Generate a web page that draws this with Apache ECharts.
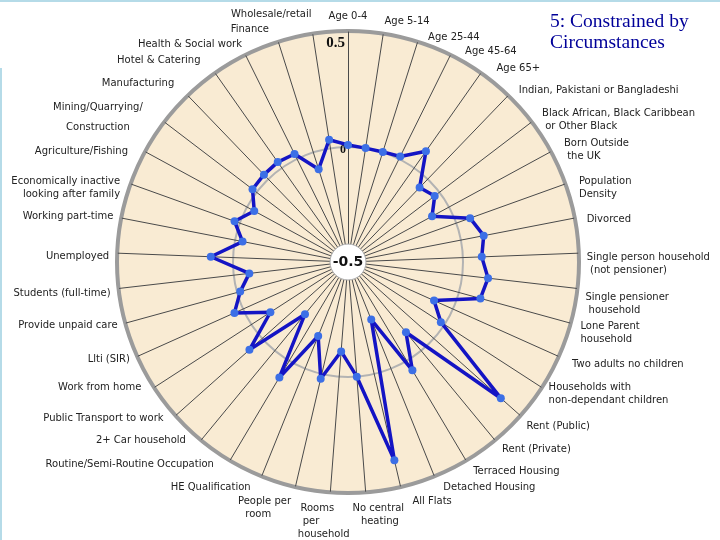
<!DOCTYPE html>
<html>
<head>
<meta charset="utf-8">
<script src="https://cdn.jsdelivr.net/npm/echarts@6/dist/echarts.min.js"></script>
<style>
  html, body { margin: 0; padding: 0; background: #fff; }
  #chart { width: 720px; height: 540px; }
</style>
</head>
<body>
<div id="chart"></div>
<script>
// indicators, clockwise from the top
const categories = [
  'Age 0-4', 'Age 5-14', 'Age 25-44', 'Age 45-64', 'Age 65+',
  'Indian, Pakistani or Bangladeshi',
  'Black African, Black Caribbean\n or Other Black',
  'Born Outside\n the UK', 'Population\nDensity', 'Divorced',
  'Single person household\n (not pensioner)', 'Single pensioner\n household',
  'Lone Parent\nhousehold', 'Two adults no children',
  'Households with\nnon-dependant children', 'Rent (Public)', 'Rent (Private)',
  'Terraced Housing', 'Detached Housing', 'All Flats', 'No central\n heating',
  'Rooms    \nper        \nhousehold', 'People per\n room     ', 'HE Qualification',
  'Routine/Semi-Routine Occupation', '2+ Car household', 'Public Transport to work',
  'Work from home', 'Llti (SIR)', 'Provide unpaid care', 'Students (full-time)',
  'Unemployed', 'Working part-time', 'Economically inactive\nlooking after family',
  'Agriculture/Fishing', 'Mining/Quarrying/\nConstruction', 'Manufacturing',
  'Hotel & Catering', 'Health & Social work', 'Finance', 'Wholesale/retail'
]
const values = [
  0.009, 0.001, 0.002, 0.012, 0.089,
  -0.051, -0.026, -0.084, 0.064, 0.101,
  0.082, 0.113, 0.097, -0.09, -0.019,
  0.39, -0.104, 0.048, -0.23, 0.385,
  0.0, -0.11, 0.021, -0.153, 0.084,
  -0.206, 0.074, -0.098, 0.041, -0.014,
  -0.068, 0.097, -0.033, 0.024, -0.036,
  0.022, 0.027, 0.031, 0.024, -0.077, 0.038
]
const tickValues = [-0.5, 0, 0.5]
const tickLabels = ['-0.5', '0', '0.5']
const scaleMin = -0.5
const scaleMax = 0.5
const title = '5: Constrained by\nCircumstances'

const cx = 348
const cy = 262
const R = 230

// hand nudges for the names so they sit where the original put them
// (index into categories -> [top, right, left] padding, top-anchored)
const nudge = {
  1: [-10.5, 0, 0], 2: [-3.5, 0, 8], 3: [-2.5, 0, 11], 4: [-4.5, 0, 11],
  5: [-5.5, 0, 5], 6: [-10, 0, 4], 7: [-11, 0, 6], 8: [-6, 0, 6], 9: [-3.5, 0, 4],
  10: [-2, 0, 0], 11: [1, 0, 0], 12: [-5, 0, 2], 13: [-1.5, 0, 6], 14: [-11, 0, 0],
  15: [-1.5, 0, 0], 16: [-3.5, 0, 2], 17: [-2.5, 0, 3], 18: [-2.5, 0, 6],
  23: [-2.5, 8, 0], 24: [-9.5, 12, 0], 25: [-12.5, 10, 0], 26: [-9.5, 6, 0],
  27: [-11.5, 6, 0], 28: [-6.5, 0, 0], 29: [-6.5, 0, 0], 30: [-2.5, 0, 0],
  31: [-2.5, 0, 0], 32: [-6.5, 0, 0], 33: [-6, 3, 0], 34: [-2.5, 10, 0],
  36: [-12.5, 8, 0], 37: [-12.5, 10, 0], 38: [-9.5, 0, 0], 39: [-11.5, 7, 0],
  40: [-17.5, 0, 0]
}
// the labels under the circle sit centred below their spoke
const bottomNames = {
  19: { align: 'left', verticalAlign: 'top', padding: [0, 0, 0, 10] },
  20: { align: 'center', verticalAlign: 'top', padding: [2, 0, 0, 24] },
  21: { align: 'center', verticalAlign: 'top', padding: [2, 12, 0, 0] },
  22: { align: 'center', verticalAlign: 'top', padding: [0, 58, 0, 0] },
  35: { align: 'center', lineHeight: 20, padding: [0, 120, 0, 0] }
}

// echarts lays radar indicators out anticlockwise, so walk the list backwards
const order = categories.map((c, i) => (categories.length - i) % categories.length)
const indicator = order.map(i => {
  const d = { name: categories[i], min: scaleMin, max: scaleMax }
  if (bottomNames[i]) d.nameTextStyle = bottomNames[i]
  else if (nudge[i]) d.nameTextStyle = { verticalAlign: 'top', padding: [nudge[i][0], nudge[i][1], 0, nudge[i][2]] }
  return d
})
const tickR = v => (v - scaleMin) / (scaleMax - scaleMin) * R

const myChart = echarts.init(document.getElementById('chart'))
myChart.setOption({
  animation: false,
  radar: [
    {
      center: [cx, cy],
      radius: R,
      startAngle: 90,
      shape: 'circle',
      splitNumber: 2,
      indicator,
      nameGap: 9,
      axisName: { color: '#222', fontFamily: 'DejaVu Sans', fontSize: 10, lineHeight: 13 },
      splitArea: { show: true, areaStyle: { color: ['#f9ebd3'] } },
      splitLine: { lineStyle: { color: ['#b3b3b3', '#b3b3b3', 'rgba(0,0,0,0)'], width: 2 } },
      axisLine: { lineStyle: { color: '#4a4a4a', width: 1 } },
      axisTick: { show: false },
      axisLabel: { show: false }
    },
    {
      center: [cx, cy],
      radius: R + 1,
      shape: 'circle',
      splitNumber: 1,
      indicator: indicator.map(d => ({ name: '', min: scaleMin, max: scaleMax })),
      axisName: { show: false },
      splitArea: { show: false },
      splitLine: { lineStyle: { color: ['rgba(0,0,0,0)', '#9b9b9b'], width: 4 } },
      axisLine: { show: false },
      axisTick: { show: false },
      axisLabel: { show: false }
    }
  ],
  series: [
    {
      type: 'radar',
      radarIndex: 0,
      z: 20,
      symbol: 'circle',
      symbolSize: 8,
      itemStyle: { color: '#3c6fe6' },
      lineStyle: { color: '#1414c4', width: 3.5 },
      data: [{ value: order.map(i => values[i]) }]
    }
  ],
  graphic: [
    { type: 'line', z: 1, shape: { x1: 0, y1: 1, x2: 720, y2: 1 }, style: { stroke: '#b5dbe8', lineWidth: 2 } },
    { type: 'line', z: 1, shape: { x1: 1, y1: 68, x2: 1, y2: 540 }, style: { stroke: '#b5dbe8', lineWidth: 2 } },
    {
      type: 'circle', z: 10,
      shape: { cx, cy, r: 18 },
      style: { fill: '#fff', stroke: '#aaa', lineWidth: 1 }
    },
    {
      type: 'text', z: 11,
      style: { x: cx, y: cy, text: tickLabels[0], textAlign: 'center', textVerticalAlign: 'middle', font: 'bold 14px DejaVu Sans', fill: '#111' }
    },
    {
      type: 'text', z: 11,
      style: { x: cx - 2, y: cy - tickR(tickValues[1]) + 3, text: tickLabels[1], textAlign: 'right', textVerticalAlign: 'middle', font: 'bold 12px Liberation Serif', fill: '#111' }
    },
    {
      type: 'text', z: 11,
      style: { x: cx - 3, y: cy - tickR(tickValues[2]) + 11, text: tickLabels[2], textAlign: 'right', textVerticalAlign: 'middle', font: 'bold 15px Liberation Serif', fill: '#111' }
    },
    {
      type: 'text', z: 11,
      style: { x: 550, y: 11, text: title, font: '19.5px Liberation Serif', lineHeight: 21, fill: '#000099' }
    }
  ]
})
</script>
</body>
</html>
